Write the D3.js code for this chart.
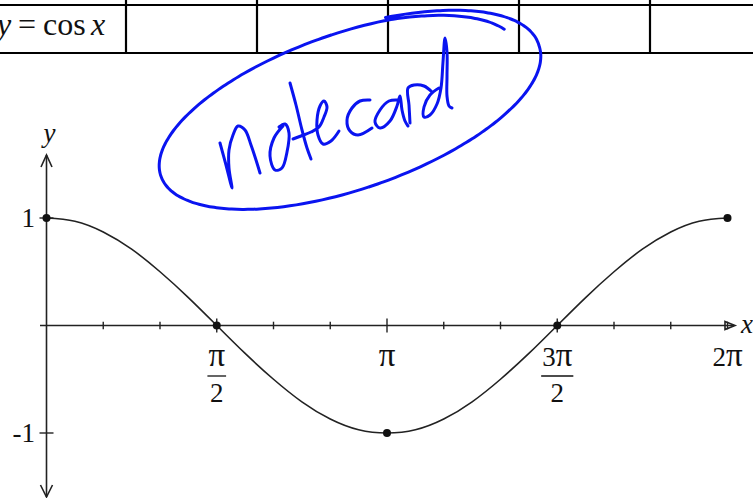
<!DOCTYPE html>
<html><head><meta charset="utf-8">
<script src="https://cdn.jsdelivr.net/npm/d3@7"></script>
<style>html,body{margin:0;padding:0;background:#fff;overflow:hidden}svg{display:block}</style>
</head><body><svg id="c" width="753" height="498"></svg>
<script>
// ---- data (x in units of π/12) ----
const curveX = [0,1,2,3,4,5,6,7,8,9,10,11,12,13,14,15,16,17,18,19,20,21,22,23,24];
const curveY = [1,0.97,0.87,0.71,0.5,0.26,0,-0.26,-0.5,-0.71,-0.87,-0.97,-1,-0.97,-0.87,-0.71,-0.5,-0.26,0,0.26,0.5,0.71,0.87,0.97,1];
const keyX = [0,6,12,18,24];
const keyY = [1,0,-1,0,1];
const minorTicks = [2,4,8,10,14,16,20,22,24];
const majorTicks = [6,12,18];
const xLabelAt = [6,12,18,24];
const xLabelNum = ["π","π","3π","2π"];
const xLabelDen = ["2","","2",""];
const yTickValues = [1,-1];
const yTickLabels = ["1","-1"];
const tableColumns = [0,1,2,3,4,5];

const svg = d3.select("#c");
const serif = "'Liberation Serif','Times New Roman',serif";
const ink = "#222";

// ---- table row ----
const tx = d3.scaleLinear().domain([0,5]).range([-5,650]);
svg.append("g").selectAll("line.h").data([5,53]).join("line")
  .attr("x1",0).attr("x2",753).attr("y1",d=>d).attr("y2",d=>d)
  .attr("stroke","#000").attr("stroke-width",2.2);
svg.append("g").selectAll("line.v").data(tableColumns.slice(1)).join("line")
  .attr("x1",d=>tx(d)).attr("x2",d=>tx(d)).attr("y1",0).attr("y2",54)
  .attr("stroke","#000").attr("stroke-width",2.2);
const hdr = svg.append("g").attr("font-family",serif).attr("font-size",32).attr("fill","#111");
hdr.append("text").attr("x",-3).attr("y",35).attr("font-style","italic").text("y");
hdr.append("text").attr("x",18).attr("y",35).text("=");
hdr.append("text").attr("x",43).attr("y",35).text("cos");
hdr.append("text").attr("x",91).attr("y",35).attr("font-style","italic").text("x");

// ---- graph ----
const x = d3.scaleLinear().domain([0,24]).range([46.5,727.5]);
const y = d3.scaleLinear().domain([-1,1]).range([433,218]);
const g = svg.append("g");
const x0 = x(0), y0 = y(0);

// axes
g.append("line").attr("x1",x0).attr("x2",x0).attr("y1",155).attr("y2",497)
  .attr("stroke",ink).attr("stroke-width",1.6);
g.append("line").attr("x1",40).attr("x2",734).attr("y1",y0).attr("y2",y0)
  .attr("stroke",ink).attr("stroke-width",1.6);
// arrows
g.append("path").attr("d",`M${x0-5.5},${167} L${x0},${155} L${x0+5.5},${167}`)
  .attr("fill","none").attr("stroke",ink).attr("stroke-width",1.6);
g.append("path").attr("d",`M${x0-6},${485} L${x0},${497} L${x0+6},${485}`)
  .attr("fill","none").attr("stroke",ink).attr("stroke-width",1.6);
g.append("path").attr("d",`M725,${y0-4} L735,${y0} L725,${y0+4} Z`)
  .attr("fill","none").attr("stroke",ink).attr("stroke-width",1.6);

// ticks
g.selectAll("line.mn").data(minorTicks).join("line")
  .attr("x1",d=>x(d)).attr("x2",d=>x(d)).attr("y1",y0-3.8).attr("y2",y0+3.8)
  .attr("stroke",ink).attr("stroke-width",1.4);
g.selectAll("line.mj").data(majorTicks).join("line")
  .attr("x1",d=>x(d)).attr("x2",d=>x(d)).attr("y1",y0-7).attr("y2",y0+7)
  .attr("stroke",ink).attr("stroke-width",1.4);
g.selectAll("line.yt").data(yTickValues).join("line")
  .attr("x1",x0-7).attr("x2",x0+7).attr("y1",d=>y(d)).attr("y2",d=>y(d))
  .attr("stroke",ink).attr("stroke-width",1.4);

// labels
const lab = g.append("g").attr("font-family",serif).attr("font-size",27).attr("fill","#111");
lab.selectAll("text.yl").data(yTickValues).join("text")
  .attr("x",35).attr("y",d=>y(d)+9).attr("text-anchor","end")
  .text((d,i)=>yTickLabels[i]);
lab.append("text").attr("x",x0+3).attr("y",142).attr("text-anchor","middle")
  .attr("font-style","italic").text("y");
lab.append("text").attr("x",741).attr("y",333).attr("font-style","italic").text("x");
xLabelAt.forEach((v,i)=>{
  const cx = x(v);
  const t = lab.append("text").attr("x",cx).attr("y",366).attr("text-anchor","middle");
  xLabelNum[i].split("").forEach(ch=>{
    const sp = t.append("tspan").text(ch);
    if (ch === "π") sp.attr("font-size",33);
  });
  if (xLabelDen[i]) {
    const w = t.node().getComputedTextLength();
    lab.append("line").attr("x1",cx-w/2-1).attr("x2",cx+w/2+1).attr("y1",376).attr("y2",376)
      .attr("stroke","#111").attr("stroke-width",1.3);
    lab.append("text").attr("x",cx).attr("y",402).attr("text-anchor","middle").text(xLabelDen[i]);
  }
});

// curve
const pts = curveX.map((v,i)=>[v,curveY[i]]);
g.append("path").datum(pts)
  .attr("d",d3.line().x(d=>x(d[0])).y(d=>y(d[1])).curve(d3.curveNatural))
  .attr("fill","none").attr("stroke","#222").attr("stroke-width",1.6);
g.selectAll("circle").data(keyX.map((v,i)=>[v,keyY[i]])).join("circle")
  .attr("cx",d=>x(d[0])).attr("cy",d=>y(d[1])).attr("r",4).attr("fill","#111");

// ---- handwritten annotation ----
const blue = "#0a14f0";
const ann = svg.append("g").attr("fill","none").attr("stroke",blue)
  .attr("stroke-width",3).attr("stroke-linecap","round").attr("stroke-linejoin","round");
// ellipse loop with overlapping tail
const ecx = 350, ecy = 111, ea = 200, eb = 78, rot = -19*Math.PI/180;
const tStart = -72, tEnd = 338;
const loop = d3.range(tStart, tEnd+0.1, 2).map(td=>{
  let s = 1;
  if (td < 0) s = 1 + 0.035*(-td)/72;
  if (td > 290) s = 1 - 0.07*(td-290)/48;
  const t = td*Math.PI/180;
  const px = s*ea*Math.cos(t), py = s*eb*Math.sin(t);
  return [ecx + px*Math.cos(rot) - py*Math.sin(rot), ecy + px*Math.sin(rot) + py*Math.cos(rot)];
});
ann.append("path").attr("d",d3.line().curve(d3.curveCatmullRom)(loop));
const strokes = [
  [[220,143],[226,165],[232,188],[229,168],[229,150],[233,135],[238,126],[245,130],[251,145],[256,160],[260,173]],
  [[283,126],[274,138],[270,156],[275,170],[282,168],[287,152],[289,133],[285,124],[279,127]],
  [[290,83],[296,105],[302,130],[307,148],[311,159]],
  [[293,139],[301,136],[311,132],[319,127],[324,117],[327,107],[324,101],[320,106],[317,120],[318,135],[323,144],[331,141],[339,131]],
  [[370,100],[360,101],[352,108],[347,120],[350,131],[358,135],[372,128]],
  [[398,100],[389,101],[380,110],[375,122],[380,128],[390,121],[397,106],[400,96],[402,110],[405,121],[408,126]],
  [[410,123],[409,105],[408,88],[414,85],[424,86],[432,92]],
  [[439,88],[430,95],[424,107],[424,117],[430,115],[437,104],[441,88],[443,62],[445,38],[447,52],[447,76],[447,96],[449,106],[452,108]]
];
strokes.forEach(s=>ann.append("path").attr("d",d3.line().curve(d3.curveCatmullRom)(s)));
</script>
</body></html>
